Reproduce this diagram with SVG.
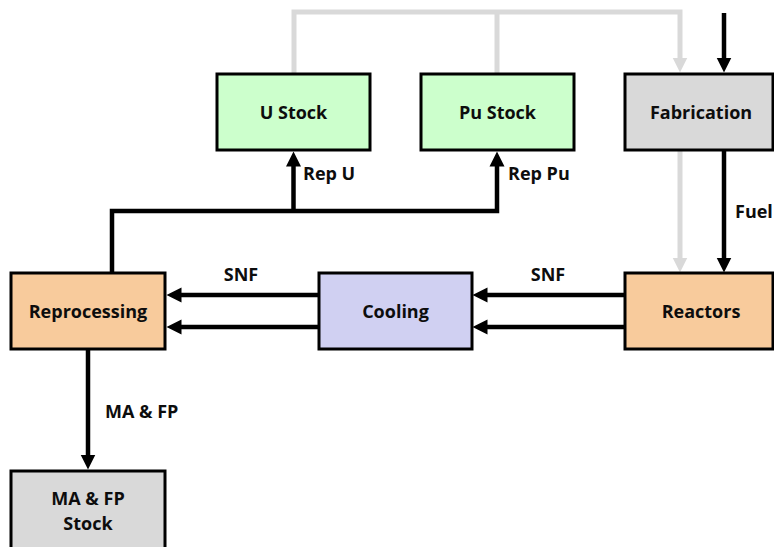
<svg xmlns="http://www.w3.org/2000/svg" width="774" height="547" viewBox="0 0 774 547">
  <defs>
    <!-- arrowheads start at the path end and point past it -->
    <marker id="ah" markerUnits="userSpaceOnUse" markerWidth="16" markerHeight="16" refX="0.5" refY="8" orient="auto">
      <path d="M0,0.5 L15,8 L0,15.5 Z" fill="#000"/>
    </marker>
    <marker id="ahg" markerUnits="userSpaceOnUse" markerWidth="16" markerHeight="16" refX="0.5" refY="8" orient="auto">
      <path d="M0,0.5 L15,8 L0,15.5 Z" fill="#d9d9d9"/>
    </marker>
  </defs>
  <style>
    .box { stroke: #000; stroke-width: 3; }
    .green { fill: #ccffcc; }
    .grey { fill: #d9d9d9; }
    .peach { fill: #f8cb9c; }
    .lav { fill: #d0d0f2; }
    .lbl { font-family: "Open Sans", "Liberation Sans", sans-serif; font-weight: 700; font-size: 18px; fill: #0d0d0d; }
    .mid { text-anchor: middle; }
    .flow { fill: none; stroke: #000; stroke-width: 4.5; }
    .recyc { fill: none; stroke: #d9d9d9; stroke-width: 5; }
  </style>

  <!-- connectors -->
  <g id="connectors">
    <!-- recycled material routing back to fabrication / reactors -->
    <path class="recyc" d="M294,74 V12 H680 V58" marker-end="url(#ahg)"/>
    <path class="recyc" d="M497,74 V12"/>
    <path class="recyc" d="M680,151 V258" marker-end="url(#ahg)"/>
    <!-- fresh feed and fuel -->
    <path class="flow" d="M724,13 V58" marker-end="url(#ah)"/>
    <path class="flow" d="M724,151 V258" marker-end="url(#ah)"/>
    <!-- spent fuel -->
    <path class="flow" d="M624,295 H487" marker-end="url(#ah)"/>
    <path class="flow" d="M624,327 H487" marker-end="url(#ah)"/>
    <path class="flow" d="M318,295 H181" marker-end="url(#ah)"/>
    <path class="flow" d="M318,327 H181" marker-end="url(#ah)"/>
    <!-- reprocessed uranium and plutonium -->
    <path class="flow" d="M112,273 V211 H497 V166" marker-end="url(#ah)"/>
    <path class="flow" d="M293.5,211 V166" marker-end="url(#ah)"/>
    <!-- minor actinides and fission products -->
    <path class="flow" d="M88,349 V455" marker-end="url(#ah)"/>

    <text class="lbl" x="303" y="180">Rep U</text>
    <text class="lbl" x="508" y="180">Rep Pu</text>
    <text class="lbl" x="735" y="218">Fuel</text>
    <text class="lbl mid" x="241" y="281">SNF</text>
    <text class="lbl mid" x="548" y="281">SNF</text>
    <text class="lbl" x="105" y="418">MA &amp; FP</text>
  </g>

  <g id="u-stock">
    <rect class="box green" x="217" y="74" width="153" height="76"/>
    <text class="lbl mid" x="293.5" y="119">U Stock</text>
  </g>
  <g id="pu-stock">
    <rect class="box green" x="421" y="74" width="153" height="76"/>
    <text class="lbl mid" x="497.5" y="119">Pu Stock</text>
  </g>
  <g id="fabrication">
    <rect class="box grey" x="625" y="74" width="148" height="76"/>
    <text class="lbl mid" x="701" y="119">Fabrication</text>
  </g>
  <g id="reprocessing">
    <rect class="box peach" x="11" y="273" width="154" height="76"/>
    <text class="lbl mid" x="88" y="318">Reprocessing</text>
  </g>
  <g id="cooling">
    <rect class="box lav" x="319" y="273" width="153" height="76"/>
    <text class="lbl mid" x="395.5" y="318">Cooling</text>
  </g>
  <g id="reactors">
    <rect class="box peach" x="625" y="273" width="148" height="76"/>
    <text class="lbl mid" x="701" y="318">Reactors</text>
  </g>
  <g id="ma-fp-stock">
    <rect class="box grey" x="11" y="471" width="154" height="82"/>
    <text class="lbl mid" x="88" y="505">MA &amp; FP</text>
    <text class="lbl mid" x="88" y="530">Stock</text>
  </g>
</svg>
